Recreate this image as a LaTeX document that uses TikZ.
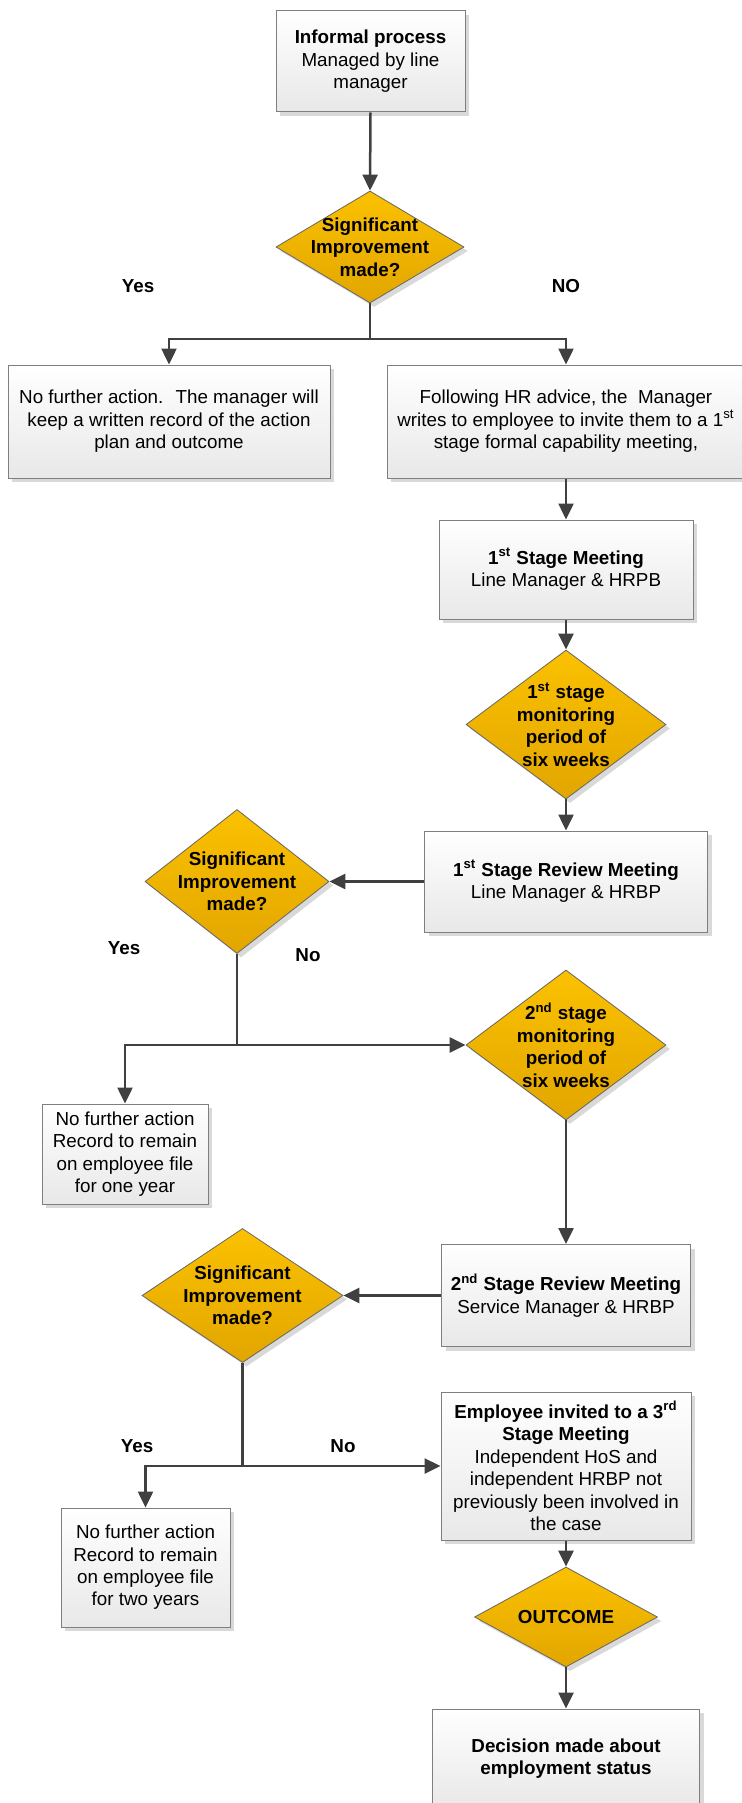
\documentclass[tikz,border=0pt]{standalone}
\usepackage{fontspec}
\setmainfont{Liberation Sans}
\usetikzlibrary{shapes.geometric,arrows.meta,shadows}

\definecolor{boxline}{HTML}{7F7F7F}
\definecolor{boxbot}{HTML}{E8E8E8}
\definecolor{goldtop}{HTML}{FBC100}
\definecolor{goldbot}{HTML}{E2A600}
\definecolor{flowline}{HTML}{404040}

\tikzset{
    procbox/.style={rectangle, draw=boxline, line width=0.5pt,
        top color=white, bottom color=boxbot, align=center, inner sep=1pt,
        drop shadow={shadow xshift=2pt, shadow yshift=-2pt, fill=black!15, opacity=1}},
    decision/.style={diamond, draw=black!60, line width=0.4pt,
        top color=goldtop, bottom color=goldbot, inner sep=0pt,
        drop shadow={shadow xshift=2pt, shadow yshift=-2pt, fill=black!15, opacity=1}},
    dtext/.style={align=center, font=\bfseries, inner sep=0pt},
    flow/.style={draw=flowline, line width=1.25pt, -{Triangle[length=8pt,width=7.5pt]}},
    lbl/.style={font=\bfseries, inner sep=0pt}
}

\begin{document}
\fontsize{9.4}{11.2}\selectfont
\begin{tikzpicture}[x=0.5pt, y=-0.5pt]
    \useasboundingbox (0,0) rectangle (741,1803);

    % top part
    \node[procbox, minimum width=94.5pt, minimum height=50.5pt] (inf) at (370.5,61.5)
        {\textbf{Informal process}\\Managed by line\\manager};
    \node[decision, minimum width=94pt, minimum height=56pt] (si1) at (370,247) {};
    \node[dtext] (si1t) at (si1) {Significant\\Improvement\\made?};
    \node[lbl] (yes1) at (138,286) {Yes};
    \node[lbl] (no1) at (566,286) {NO};
    \coordinate (j1) at (370,339);
    \node[procbox, minimum width=161pt, minimum height=56.5pt] (nfa1) at (169,421.5)
        {No further action.~ The manager will\\keep a written record of the action\\plan and outcome};
    \node[procbox, minimum width=179pt, minimum height=56.5pt] (hr) at (566,421.5)
        {Following HR advice, the~ Manager\\writes to employee to invite them to a 1\textsuperscript{st}\\stage formal capability meeting,};

    % first stage
    \node[procbox, minimum width=127pt, minimum height=49.5pt] (sm1) at (566,569.5)
        {\textbf{1\textsuperscript{st} Stage Meeting}\\Line Manager \& HRPB};
    \node[decision, minimum width=100pt, minimum height=74.5pt] (mon1) at (566,724.5) {};
    \node[dtext] (mon1t) at (mon1) {1\textsuperscript{st} stage\\monitoring\\period of\\six weeks};
    \node[procbox, minimum width=141.5pt, minimum height=50.5pt] (rv1) at (566,881.5)
        {\textbf{1\textsuperscript{st} Stage Review Meeting}\\Line Manager \& HRBP};
    \node[decision, minimum width=92pt, minimum height=72pt] (si2) at (237,881.5) {};
    \node[dtext] (si2t) at (si2) {Significant\\Improvement\\made?};
    \node[lbl] (yes2) at (124,948) {Yes};
    \node[lbl] (no2) at (308,955) {No};
    \node[procbox, minimum width=83pt, minimum height=50pt] (nfa2) at (125,1154)
        {No further action\\Record to remain\\on employee file\\for one year};

    % second stage
    \node[decision, minimum width=100pt, minimum height=75pt] (mon2) at (566,1045) {};
    \node[dtext] (mon2t) at (mon2) {2\textsuperscript{nd} stage\\monitoring\\period of\\six weeks};
    \coordinate (j2) at (si2.south |- mon2.west);
    \node[procbox, minimum width=124.5pt, minimum height=51pt] (rv2) at (566,1295.5)
        {\textbf{2\textsuperscript{nd} Stage Review Meeting}\\Service Manager \& HRBP};
    \node[decision, minimum width=100.5pt, minimum height=67pt] (si3) at (242.5,1295.5) {};
    \node[dtext] (si3t) at (si3) {Significant\\Improvement\\made?};
    \node[lbl] (yes3) at (137,1446) {Yes};
    \node[lbl] (no3) at (343,1446) {No};
    \node[procbox, minimum width=84.5pt, minimum height=59.5pt] (nfa3) at (145.5,1567.5)
        {No further action\\Record to remain\\on employee file\\for two years};

    % third stage
    \node[procbox, minimum width=125pt, minimum height=74pt] (inv) at (566,1466)
        {\textbf{Employee invited to a 3\textsuperscript{rd}}\\\textbf{Stage Meeting}\\Independent HoS and\\independent HRBP not\\previously been involved in\\the case};
    \coordinate (j3) at (si3.south |- inv.west);
    \node[decision, minimum width=91.5pt, minimum height=50pt] (out) at (566,1617) {};
    \node[dtext] (outt) at (out) {OUTCOME};
    \node[procbox, minimum width=133.5pt, minimum height=49.5pt] (dec) at (566,1758.5)
        {\textbf{Decision made about}\\\textbf{employment status}};

    % connectors
    \draw[flow] (inf.south) -- (si1.north);
    \draw[flow] (si1.south) -- (j1) -| (nfa1.north);
    \draw[flow] (j1) -| (hr.north);
    \draw[flow] (hr.south) -- (sm1.north);
    \draw[flow] (sm1.south) -- (mon1.north);
    \draw[flow] (mon1.south) -- (rv1.north);
    \draw[flow] (rv1.west) -- (si2.east);
    \draw[flow] (si2.south) -- (j2) -| (nfa2.north);
    \draw[flow] (j2) -- (mon2.west);
    \draw[flow] (mon2.south) -- (rv2.north);
    \draw[flow] (rv2.west) -- (si3.east);
    \draw[flow] (si3.south) -- (j3) -| (nfa3.north);
    \draw[flow] (j3) -- (inv.west);
    \draw[flow] (inv.south) -- (out.north);
    \draw[flow] (out.south) -- (dec.north);
\end{tikzpicture}
\end{document}
